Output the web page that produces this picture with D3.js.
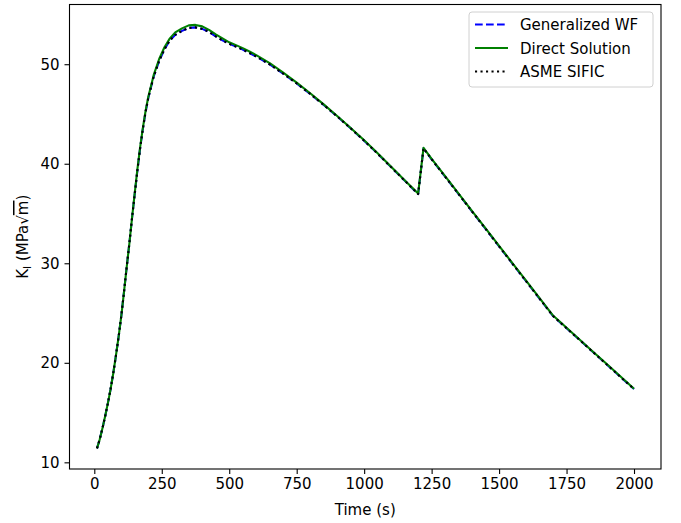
<!DOCTYPE html>
<html>
<head>
<meta charset="utf-8">
<script src="https://cdn.jsdelivr.net/npm/d3@7"></script>
<style>
  body { margin: 0; background: #fff; }
  text { font-family: "DejaVu Sans", sans-serif; }
</style>
</head>
<body>
<div id="chart"></div>
<script>
// time steps (s)
const time = [10,20,30,40,50,60,70,80,90,100,110,120,130,140,150,160,170,180,190,200,
  220,240,260,280,300,325,350,375,400,425,450,475,500,525,550,575,600,650,700,750,
  800,850,900,950,1000,1050,1100,1150,1200,1220,1250,1300,1350,1400,1450,1500,1550,
  1600,1650,1700,1750,1800,1850,1900,1950,2000];

// K_I from direct solution
const directSolution = [11.4,12.3,13.4,14.6,15.9,17.3,18.9,20.7,22.6,24.7,27.1,29.6,32.0,34.6,37.1,39.5,41.7,43.6,45.3,46.7,
  48.9,50.5,51.7,52.6,53.2,53.6,53.9,53.95,53.8,53.45,53.0,52.6,52.2,51.92,51.62,51.28,50.92,50.1,49.15,48.15,
  47.08,45.96,44.8,43.6,42.36,41.05,39.7,38.35,37.0,41.6,40.5,38.75,37.0,35.25,33.5,31.75,30.0,
  28.25,26.5,24.75,23.52,22.3,21.07,19.85,18.62,17.4];

// K_I from generalized weight function
const generalizedWF = [11.4,12.3,13.4,14.6,15.9,17.3,18.9,20.7,22.6,24.7,27.1,29.6,32.0,34.6,37.0,39.4,41.6,43.5,45.2,46.6,
  48.75,50.3,51.5,52.4,52.95,53.35,53.65,53.7,53.55,53.25,52.8,52.4,52.05,51.77,51.47,51.13,50.78,49.98,49.05,48.07,
  47.02,45.91,44.76,43.56,42.32,41.01,39.66,38.31,36.95,41.55,40.45,38.7,36.95,35.2,33.45,31.7,29.95,
  28.2,26.45,24.7,23.48,22.26,21.03,19.81,18.58,17.36];

// K_I from ASME SIFIC
const asmeSIFIC = [11.4,12.3,13.4,14.6,15.9,17.3,18.9,20.7,22.6,24.7,27.1,29.6,32.0,34.6,37.0,39.4,41.6,43.5,45.2,46.6,
  48.75,50.3,51.5,52.4,52.95,53.35,53.65,53.7,53.55,53.25,52.8,52.4,52.05,51.77,51.47,51.13,50.78,49.98,49.05,48.07,
  47.02,45.91,44.76,43.56,42.32,41.01,39.66,38.31,36.95,41.55,40.45,38.7,36.95,35.2,33.45,31.7,29.95,
  28.2,26.45,24.7,23.48,22.26,21.03,19.81,18.58,17.36];

const xTicks = [0,250,500,750,1000,1250,1500,1750,2000];
const yTicks = [10,20,30,40,50];

const series = [
  { name: "Generalized WF", values: generalizedWF, color: "#0000ff", dash: "7.7,3.3" },
  { name: "Direct Solution", values: directSolution, color: "#008000", dash: null },
  { name: "ASME SIFIC", values: asmeSIFIC, color: "#000000", dash: "2.1,3.4" }
];

const W = 681, H = 523;
const margin = { top: 4.5, right: 20, bottom: 54, left: 69.5 };

const svg = d3.select("#chart").append("svg")
  .attr("width", W).attr("height", H);

const x = d3.scaleLinear().domain([-91.9, 2100]).range([margin.left, W - margin.right]);
const y = d3.scaleLinear().domain([9.33, 56.0]).range([H - margin.bottom, margin.top]);

const line = d3.line()
  .x((d, i) => x(time[i]))
  .y(d => y(d));

// lines
svg.append("g").selectAll("path")
  .data(series)
  .enter().append("path")
  .attr("d", d => line(d.values))
  .attr("fill", "none")
  .attr("stroke", d => d.color)
  .attr("stroke-width", 2.1)
  .attr("stroke-dasharray", d => d.dash)
  .attr("stroke-linecap", "butt")
  .attr("stroke-linejoin", "round");

// frame
svg.append("rect")
  .attr("x", margin.left).attr("y", margin.top)
  .attr("width", W - margin.right - margin.left)
  .attr("height", H - margin.bottom - margin.top)
  .attr("fill", "none").attr("stroke", "#000").attr("stroke-width", 1.1);

// axes
const xAxis = svg.append("g")
  .attr("transform", "translate(0," + (H - margin.bottom) + ")")
  .call(d3.axisBottom(x).tickValues(xTicks).tickSize(5).tickPadding(4).tickFormat(d3.format("d")));
const yAxis = svg.append("g")
  .attr("transform", "translate(" + margin.left + ",0)")
  .call(d3.axisLeft(y).tickValues(yTicks).tickSize(5).tickPadding(5).tickFormat(d3.format("d")));

[xAxis, yAxis].forEach(a => {
  a.select(".domain").remove();
  a.selectAll("line").attr("stroke", "#000").attr("stroke-width", 1.1);
  a.selectAll("text").attr("fill", "#000").style("font-size", "15px")
    .style("font-family", "'DejaVu Sans', sans-serif");
});

// axis labels
svg.append("text")
  .attr("x", (margin.left + W - margin.right) / 2)
  .attr("y", 515)
  .attr("text-anchor", "middle")
  .style("font-size", "15px")
  .text("Time (s)");

const yl = svg.append("text")
  .attr("transform", "translate(28," + ((margin.top + H - margin.bottom) / 2) + ") rotate(-90)")
  .attr("text-anchor", "middle")
  .style("font-size", "15px");
yl.append("tspan").text("K");
yl.append("tspan").attr("dy", 3).style("font-size", "10.5px").text("I");
yl.append("tspan").attr("dy", -3).text(" (MPa√");
yl.append("tspan").style("text-decoration", "overline").text("m");
yl.append("tspan").text(")");

// legend
const lg = svg.append("g").attr("transform", "translate(469,12)");
lg.append("rect")
  .attr("width", 184).attr("height", 75).attr("rx", 3)
  .attr("fill", "#fff").attr("stroke", "#d0d0d0").attr("stroke-width", 1);
series.forEach((s, i) => {
  const cy = 12.5 + i * 23.5;
  lg.append("line")
    .attr("x1", 6).attr("x2", 39).attr("y1", cy).attr("y2", cy)
    .attr("stroke", s.color).attr("stroke-width", 2.1)
    .attr("stroke-dasharray", s.dash);
  lg.append("text")
    .attr("x", 51).attr("y", cy + 5.5)
    .style("font-size", "15px")
    .text(s.name);
});
</script>
</body>
</html>
